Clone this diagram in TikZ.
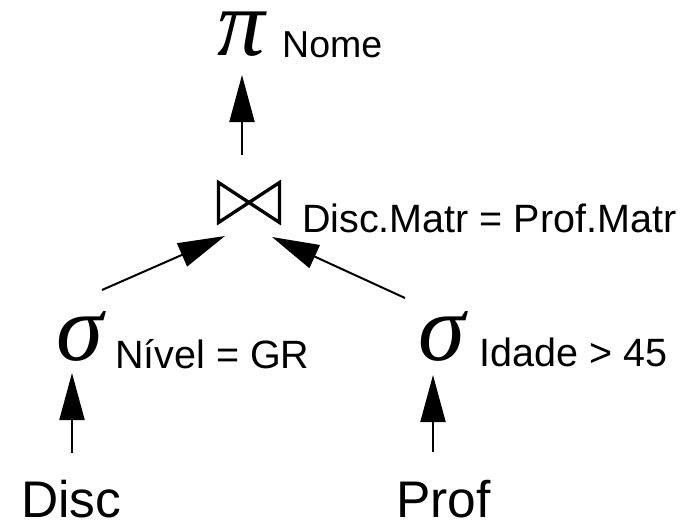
\documentclass[tikz,border=0pt]{standalone}
\usepackage{fontspec}
\setmainfont{Liberation Sans}
\newfontfamily\greekfont{Liberation Serif}
\usetikzlibrary{arrows.meta}
\begin{document}
\begin{tikzpicture}[x=1pt,y=-1pt,
  lbl/.style={inner sep=0pt, anchor=base west, font=\fontsize{39.5}{41}\selectfont},
  big/.style={inner sep=0pt, anchor=base west, text depth=0pt, font=\fontsize{51.5}{53}\selectfont},
  greek/.style={inner sep=0pt, anchor=base, text height=44pt, text depth=0pt, font=\greekfont\itshape\fontsize{95}{95}\selectfont},
  arr/.style={line width=2pt, -{Triangle[length=47pt,width=25pt]}},
  bowtie/.style={line width=3.3pt, line join=miter}]
\useasboundingbox (0,0) rectangle (698,520);
% operators
\node[greek] (pi) at (241.5,55) {π};
\node[lbl, font=\fontsize{37.5}{39}\selectfont] (nome) at (282,57) {Nome};
\coordinate (joinc) at (249,202.5);
\draw[bowtie] (218.5,182.5) -- (279.5,222.5) -- (279.5,182.5) -- (218.5,222.5) -- cycle;
\node[lbl] (cond) at (302,232) {Disc.Matr = Prof.Matr};
\node[greek] (sigL) at (80,360) {σ};
\node[lbl] (condL) at (115,368) {Nível = GR};
\node[greek] (sigR) at (442,360) {σ};
\node[lbl] (condR) at (479.5,366) {Idade > 45};
\node[big] (disc) at (21,517) {Disc};
\node[big] (prof) at (396,517) {Prof};
% arrow end points
\coordinate (piIn) at (242,75);
\coordinate (joinOut) at (242,155);
\coordinate (joinInL) at (225,236);
\coordinate (joinInR) at (272,237);
\coordinate (sigLOut) at (102,290);
\coordinate (sigROut) at (405,298);
\coordinate (sigLIn) at (72,373);
\coordinate (sigRIn) at (433,375);
\coordinate (discOut) at (72,453);
\coordinate (profOut) at (433,452);
% connectors
\draw[arr] (joinOut) -- (piIn);
\draw[arr] (sigLOut) -- (joinInL);
\draw[arr] (sigROut) -- (joinInR);
\draw[arr] (discOut) -- (sigLIn);
\draw[arr] (profOut) -- (sigRIn);
\end{tikzpicture}
\end{document}
